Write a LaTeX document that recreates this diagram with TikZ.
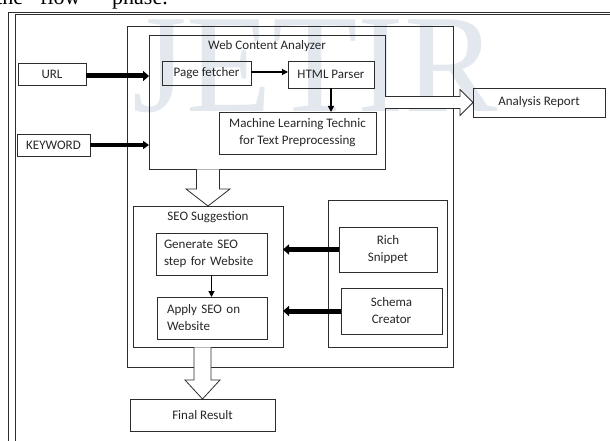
\documentclass[tikz,border=0pt]{standalone}
\usepackage{fontspec}
\setmainfont{Carlito}
\newfontfamily\serifwm{Liberation Serif}
\usetikzlibrary{calc,arrows.meta}
\definecolor{wm}{RGB}{226,232,238}
\definecolor{ln}{RGB}{45,45,45}
\begin{document}
\begin{tikzpicture}[x=1pt,y=-1pt,
  box/.style={draw=ln, line width=0.8pt, inner sep=0pt, outer sep=0pt,
    font=\fontsize{13}{17}\selectfont, text=black!85, align=center},
  thinarrow/.style={draw=black, line width=1.2pt, -{Triangle[length=6pt,width=6pt]}},
  thickarrow/.style={draw=black, line width=5pt, -{Triangle[length=6pt,width=10pt]}},
  midarrow/.style={draw=black, line width=4pt, -{Triangle[length=6pt,width=8pt]}},
  hollow/.style={draw=ln, line width=0.8pt, fill=white, line join=miter},
  frameline/.style={draw=ln, line width=0.8pt},
  wmark/.style={font=\serifwm\fontsize{140}{140}\selectfont, text=wm, anchor=base, inner sep=0pt},
  cuttext/.style={font=\serifwm\fontsize{22}{22}\selectfont, anchor=base west, inner sep=0pt}]
\useasboundingbox (0,0) rectangle (610,441);

% watermark
\node[wmark] (wm) at (315,112) {JETIR};

% cut-off text at top
\begin{scope}
\clip (0,0) rectangle (610,11);
\node[cuttext] (t1) at (-4,5) {the};
\node[cuttext] (t2) at (40,5) {flow};
\node[cuttext] (t3) at (112,5) {phase.};
\end{scope}

% page frame
\draw[frameline] (610,12) -- (8,12) -- (8,441);
\draw[frameline] (610,14.5) -- (15,14.5) -- (15,441);

% containers
\node[box, minimum width=326pt, minimum height=341pt] (outer) at (290,196.5) {};
\node[box, minimum width=236pt, minimum height=134pt] (wca) at (267,102) {};
\node[box, draw=none, anchor=north] (wcat) at ($(wca.north)+(0,5)$) {Web Content Analyzer};
\node[box, minimum width=150pt, minimum height=141pt] (seo) at (208,276.5) {};
\node[box, draw=none, anchor=north] (seot) at ($(seo.north)+(0,6)$) {SEO Suggestion};
\node[box, minimum width=119pt, minimum height=147pt] (grp) at (387.5,273.5) {};

% boxes
\node[box, minimum width=68pt, minimum height=22pt] (url) at (52,74) {URL};
\node[box, minimum width=73pt, minimum height=22pt] (kw) at (53.5,145) {KEYWORD};
\node[box, minimum width=89pt, minimum height=24pt] (page) at (206.5,73) {Page fetcher};
\node[box, minimum width=86pt, minimum height=27pt] (html) at (331,74.5) {HTML Parser};
\node[box, minimum width=157pt, minimum height=42pt] (ml) at (297.5,133) {Machine Learning Technic\\for Text Preprocessing};
\node[box, minimum width=132pt, minimum height=29pt] (rep) at (539,102.5) {Analysis Report};
\node[box, align=left, text width=95pt, inner xsep=8pt, minimum height=42pt] (gen) at (211.5,254) {Generate SEO\\step for Website};
\node[box, align=left, text width=90pt, inner xsep=10pt, minimum height=42pt] (apply) at (212,318) {Apply SEO on\\Website};
\node[box, minimum width=98pt, minimum height=45pt] (rich) at (388,249.5) {Rich\\Snippet};
\node[box, minimum width=101pt, minimum height=46pt] (schema) at (391.5,311) {Schema\\Creator};
\node[box, minimum width=145pt, minimum height=32pt] (final) at (202.5,415) {Final Result};

% connectors
\draw[thickarrow] (url.east |- 0,76) -- (wca.west |- 0,76);
\draw[midarrow] (kw.east) -- (kw.east -| wca.west);
\draw[thinarrow] (page.east |- 0,72) -- (html.west |- 0,72);
\draw[thinarrow] (html.south) -- (html.south |- ml.north);
\draw[thinarrow] (gen.south) -- (gen.south |- apply.north);
\draw[thickarrow] (rich.west) -- (rich.west -| seo.east);
\draw[thickarrow] (schema.west) -- (schema.west -| seo.east);

% hollow arrows
\path (wca.east |- rep.west) coordinate (ar0) (rep.west) coordinate (ar1);
\draw[hollow] ($(ar0)+(0,-6)$) -- ($(ar1)+(-13,-6)$) -- ($(ar1)+(-13,-13)$) -- (ar1)
  -- ($(ar1)+(-13,13)$) -- ($(ar1)+(-13,6)$) -- ($(ar0)+(0,6)$);
\path ($(seo.north |- wca.south)+(0,0.4)$) coordinate (d0) (seo.north) coordinate (d1);
\draw[hollow] ($(d0)+(-11.5,0)$) -- ($(d1)+(-11.5,-17)$) -- ($(d1)+(-22,-17)$) -- (d1)
  -- ($(d1)+(22,-17)$) -- ($(d1)+(11.5,-17)$) -- ($(d0)+(11.5,0)$);
\path ($(final.north |- seo.south)+(0,0.4)$) coordinate (f0) (final.north) coordinate (f1);
\draw[hollow] ($(f0)+(-8.5,0)$) -- ($(f1)+(-8.5,-19)$) -- ($(f1)+(-17.5,-19)$) -- (f1)
  -- ($(f1)+(17.5,-19)$) -- ($(f1)+(8.5,-19)$) -- ($(f0)+(8.5,0)$);
\end{tikzpicture}
\end{document}
